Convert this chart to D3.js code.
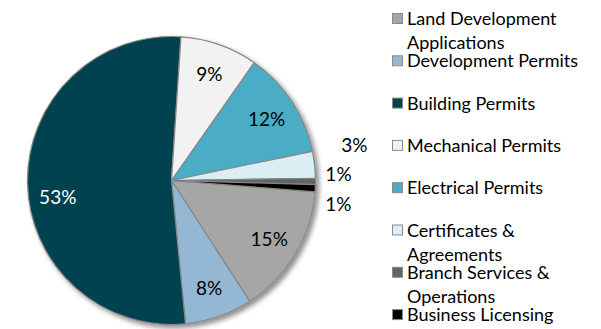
<!DOCTYPE html>
<html>
<head>
<meta charset="utf-8">
<script src="https://cdn.jsdelivr.net/npm/d3@7"></script>
<style>
  body { margin: 0; background: #fff; }
  text { font-family: Lato, Carlito, Calibri, sans-serif; }
</style>
</head>
<body>
<svg id="chart" width="601" height="329"></svg>
<script>
// Share of applications by type (percent of total)
const categories = [
  "Land Development Applications",
  "Development Permits",
  "Building Permits",
  "Mechanical Permits",
  "Electrical Permits",
  "Certificates & Agreements",
  "Branch Services & Operations",
  "Business Licensing"
];
const shares = [14.6, 7.6, 52.6, 8.7, 12.0, 3.0, 0.7, 0.8];
const colors = ["#a6a6a6", "#94b8d4", "#02424f", "#f2f2f2", "#4bacc6", "#daeef3", "#646464", "#000000"];
const legendLines = [
  ["Land Development", "Applications"],
  ["Development Permits"],
  ["Building Permits"],
  ["Mechanical Permits"],
  ["Electrical Permits"],
  ["Certificates &", "Agreements"],
  ["Branch Services &", "Operations"],
  ["Business Licensing"]
];

const svg = d3.select("#chart");
const cx = 171.5, cy = 180.5, radius = 144;
const firstSliceAngle = 94.5 * Math.PI / 180;

const defs = svg.append("defs");
const shadow = defs.append("filter").attr("id", "pieShadow")
  .attr("x", "-10%").attr("y", "-10%").attr("width", "130%").attr("height", "130%");
shadow.append("feDropShadow")
  .attr("dx", 3).attr("dy", 3).attr("stdDeviation", 2.5)
  .attr("flood-color", "#000").attr("flood-opacity", 0.45);

const total = d3.sum(shares);
const pie = d3.pie().sort(null)
  .startAngle(firstSliceAngle)
  .endAngle(firstSliceAngle + 2 * Math.PI);
const arcs = pie(shares);
const arc = d3.arc().innerRadius(0).outerRadius(radius);
const labelArc = d3.arc().innerRadius(radius * 0.79).outerRadius(radius * 0.79);

const g = svg.append("g").attr("transform", `translate(${cx},${cy})`);

g.append("g").attr("filter", "url(#pieShadow)")
  .selectAll("path").data(arcs).join("path")
  .attr("d", arc)
  .attr("fill", (d, i) => colors[i])
  .attr("stroke", "#878787")
  .attr("stroke-width", 1.2)
  .attr("stroke-linejoin", "round");

const pct = v => Math.round(v / total * 100) + "%";

// Labels inside the larger slices
const inside = arcs.filter(d => d.data >= 5);
g.selectAll("text.in").data(inside).join("text")
  .attr("class", "in")
  .attr("transform", d => {
    const [x, y] = labelArc.centroid(d);
    // the dominant slice's label sits a little lower, toward its heavier side
    const drop = (d.endAngle - d.startAngle) > Math.PI ? 14 : 0;
    return `translate(${x},${y + drop})`;
  })
  .attr("text-anchor", "middle")
  .attr("dominant-baseline", "central")
  .attr("font-size", 19)
  .attr("fill", d => d3.hsl(colors[d.index]).l < 0.3 ? "#fff" : "#000")
  .text(d => pct(d.data));

// Small slices get their labels outside, spread apart vertically
const outR = 175, spacing = 29.5;
const outside = arcs.filter(d => d.data < 5).map(d => {
  const a = (d.startAngle + d.endAngle) / 2;
  return { d, x: outR * Math.sin(a), y: -outR * Math.cos(a) };
});
const meanY = d3.mean(outside, o => o.y);
outside.forEach((o, k) => {
  o.y = meanY + (k - (outside.length - 1) / 2) * spacing - 4;
  o.x += (k === 0 ? 9 : -8);
});
g.selectAll("text.out").data(outside).join("text")
  .attr("class", "out")
  .attr("x", o => o.x)
  .attr("y", o => o.y)
  .attr("text-anchor", "middle")
  .attr("dominant-baseline", "central")
  .attr("font-size", 19)
  .attr("fill", "#000")
  .text(o => pct(o.d.data));

// Legend
const legendX = 392, legendTop = 18, rowStep = 42.3, lineStep = 24;
const legend = svg.append("g");
const rows = legend.selectAll("g").data(categories).join("g")
  .attr("transform", (d, i) => `translate(${legendX},${legendTop + i * rowStep})`);
rows.append("rect")
  .attr("x", 0.5).attr("y", -4.5).attr("width", 10).attr("height", 10)
  .attr("fill", (d, i) => colors[i])
  .attr("stroke", "#8a8a8a").attr("stroke-width", 1);
rows.append("text")
  .attr("x", 15)
  .attr("font-size", 18)
  .attr("fill", "#000")
  .selectAll("tspan").data((d, i) => legendLines[i]).join("tspan")
  .attr("x", 15)
  .attr("y", (t, j) => j * lineStep)
  .attr("dominant-baseline", "central")
  .text(t => t);
</script>
</body>
</html>
